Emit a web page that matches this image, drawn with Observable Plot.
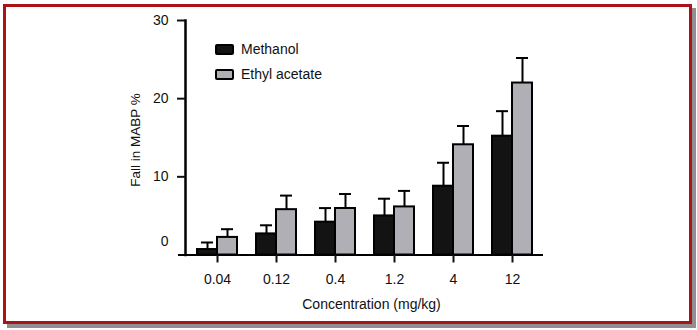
<!DOCTYPE html>
<html>
<head>
<meta charset="utf-8">
<script src="https://cdn.jsdelivr.net/npm/d3@7"></script>
<script src="https://cdn.jsdelivr.net/npm/@observablehq/plot@0.6"></script>
<style>
  html, body { margin: 0; padding: 0; background: #fff; }
  #wrap { position: relative; width: 697px; height: 330px; overflow: hidden; font-family: "Liberation Sans", Arial, sans-serif; }
  #border { position: absolute; left: 3px; top: 4px; width: 689px; height: 320px; box-sizing: border-box; border: 3px solid #ad1218; box-shadow: 4px 4px 0 #8f8f8f; background: #fff; }
  #chart { position: absolute; left: 0; top: 0; }
  .leg { position: absolute; font-size: 14px; color: #111; display: flex; align-items: center; }
  .sw { width: 15px; height: 7px; border: 2px solid #000; border-radius: 2px; margin-right: 7px; }
  #ylabel { position: absolute; left: 135px; top: 140px; font-size: 13.5px; color: #111; white-space: nowrap; transform: translate(-50%, -50%) rotate(-90deg); }
</style>
</head>
<body>
<div id="wrap">
  <div id="border"></div>
  <div id="chart"></div>
  <div id="legend"></div>
  <div id="ylabel"></div>
</div>
<script>
const concentrations = ["0.04", "0.12", "0.4", "1.2", "4", "12"];
const series = ["Methanol", "Ethyl acetate"];
const methanol = [0.7, 2.7, 4.2, 5.0, 8.8, 15.2];
const methanolSem = [0.9, 1.1, 1.8, 2.2, 3.0, 3.2];
const ethyl = [2.25, 5.8, 5.95, 6.15, 14.1, 22.0];
const ethylSem = [1.05, 1.8, 1.85, 2.05, 2.4, 3.2];
const yTicks = [10, 20, 30];
const colors = ["#131313", "#b0afb5"];
const yTitle = "Fall in MABP %";
const xTitle = "Concentration (mg/kg)";

const rowsM = concentrations.map((c, i) => ({conc: c, value: methanol[i], err: methanolSem[i]}));
const rowsE = concentrations.map((c, i) => ({conc: c, value: ethyl[i], err: ethylSem[i]}));

const plot = Plot.plot({
  width: 697,
  height: 330,
  marginLeft: 185,
  marginRight: 154,
  marginTop: 20,
  marginBottom: 75.5,
  style: {fontFamily: '"Liberation Sans", Arial, sans-serif', fontSize: "14px", color: "#111", background: "transparent"},
  x: {domain: concentrations, paddingInner: 0.33, paddingOuter: 0.165, label: null},
  y: {domain: [0, 30], label: null},
  marks: [
    Plot.ruleX(rowsM, {x: "conc", y1: "value", y2: d => d.value + d.err, dx: -10, strokeWidth: 2, stroke: "#000"}),
    Plot.tickY(rowsM, {x: "conc", y: d => d.value + d.err, insetLeft: 4, insetRight: 24, strokeWidth: 2, stroke: "#000"}),
    Plot.ruleX(rowsE, {x: "conc", y1: "value", y2: d => d.value + d.err, dx: 10, strokeWidth: 2, stroke: "#000"}),
    Plot.tickY(rowsE, {x: "conc", y: d => d.value + d.err, insetLeft: 24, insetRight: 4, strokeWidth: 2, stroke: "#000"}),
    Plot.barY(rowsM, {x: "conc", y: "value", fill: colors[0], stroke: "#000", strokeWidth: 2, insetRight: 20}),
    Plot.barY(rowsE, {x: "conc", y: "value", fill: colors[1], stroke: "#000", strokeWidth: 2, insetLeft: 20}),
    Plot.frame({anchor: "left", strokeWidth: 2.5, stroke: "#000"}),
    Plot.ruleY([0], {insetLeft: -7, strokeWidth: 2, stroke: "#000"}),
    Plot.axisX({tickSize: 8, tickPadding: 11, strokeWidth: 2, fontSize: 14, label: null}),
    Plot.axisY({ticks: yTicks, tickSize: 8, tickPadding: 9, strokeWidth: 2, fontSize: 14, label: null}),
    Plot.text([0], {y: d => d, text: d => String(d), frameAnchor: "left", textAnchor: "end", dx: -17, dy: -13, fontSize: 14}),
    Plot.text([xTitle], {frameAnchor: "bottom", dx: 7, dy: 54, fontSize: 14})
  ]
});
document.getElementById("chart").appendChild(plot);
document.getElementById("ylabel").textContent = yTitle;

const legend = document.getElementById("legend");
const legendTops = [41, 66];
series.forEach((s, i) => {
  const d = document.createElement("div");
  d.className = "leg";
  d.style.left = "215px";
  d.style.top = legendTops[i] + "px";
  d.style.height = "16px";
  const sw = document.createElement("span");
  sw.className = "sw";
  sw.style.background = colors[i];
  const t = document.createElement("span");
  t.textContent = s;
  d.appendChild(sw);
  d.appendChild(t);
  legend.appendChild(d);
});
</script>
</body>
</html>
